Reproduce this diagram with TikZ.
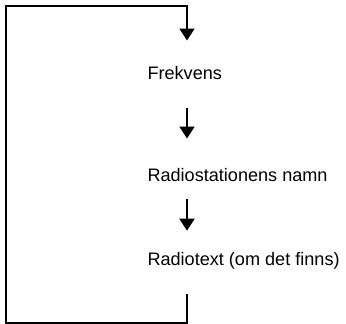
\documentclass[tikz,border=0pt]{standalone}
\usepackage{fontspec}
\setmainfont{Liberation Sans}
\usetikzlibrary{arrows.meta}
\begin{document}
\begin{tikzpicture}[x=1pt,y=-1pt,line width=2pt,
  lbl/.style={anchor=base west,inner sep=0pt,font=\fontsize{18.1}{21}\selectfont},
  flow/.style={-{Triangle[width=15pt,length=12pt]}}]
\useasboundingbox (0,0) rectangle (346,324);
\node[lbl] (f) at (146.5,79.3) {Frekvens};
\node[lbl] (r) at (146.5,181.7) {Radiostationens namn};
\node[lbl] (t) at (146.5,265) {Radiotext (om det finns)};
\coordinate (s1) at (187,6);
\coordinate (e1) at (187,40.5);
\coordinate (s2) at (187,108.3);
\coordinate (e2) at (187,138.5);
\coordinate (s3) at (187,199.3);
\coordinate (e3) at (187,230.7);
\coordinate (s4) at (187,294.3);
\coordinate (rb) at (187,322.5);
\coordinate (lb) at (6,322.5);
\coordinate (lt) at (6,6);
\draw[flow] (s4) -- (rb) -- (lb) -- (lt) -- (s1) -- (e1);
\draw[flow] (s2) -- (e2);
\draw[flow] (s3) -- (e3);
\end{tikzpicture}
\end{document}
